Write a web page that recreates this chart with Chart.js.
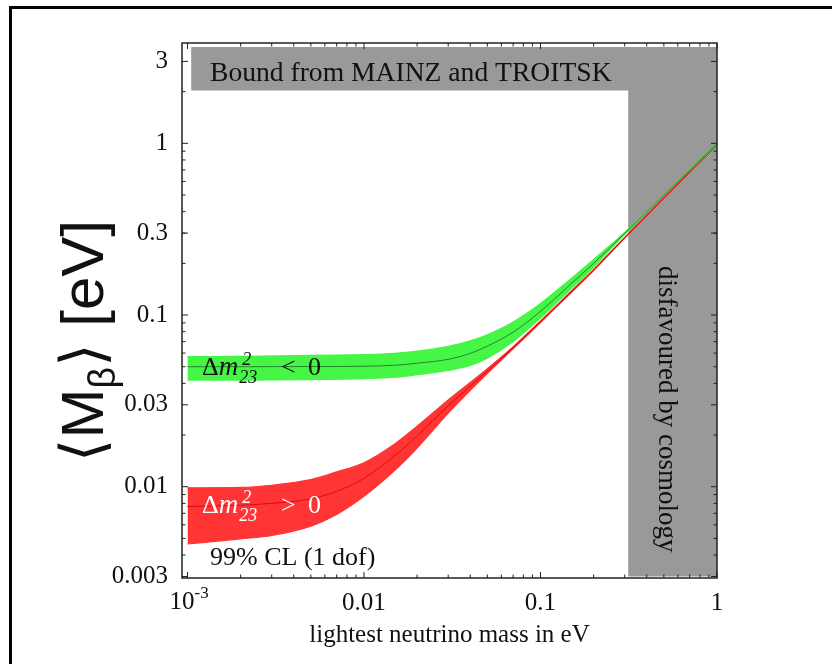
<!DOCTYPE html>
<html>
<head>
<meta charset="utf-8">
<script src="https://cdn.jsdelivr.net/npm/chart.js@4.4.1/dist/chart.umd.min.js"></script>
<style>
  html, body { margin: 0; padding: 0; background: #fff; }
  #wrap { width: 832px; height: 664px; }
</style>
</head>
<body>
<div id="wrap"><canvas id="mbeta" width="832" height="664"></canvas></div>
<script>
// lightest neutrino mass (eV) where the green band (Δm²23 < 0) was read
const greenMass = [0.001, 0.002, 0.005, 0.01, 0.015, 0.02, 0.03, 0.04, 0.05, 0.07, 0.1, 0.15, 0.2, 0.3, 1];
const greenHigh = [0.0572, 0.0575, 0.0582, 0.0588, 0.0598, 0.0616, 0.0656, 0.0707, 0.0768, 0.0911, 0.1167, 0.164, 0.2106, 0.303, 1.0];
const greenMid  = [0.0500, 0.0500, 0.0501, 0.0503, 0.0510, 0.0524, 0.0552, 0.0598, 0.0659, 0.0795, 0.1050, 0.153, 0.2000, 0.299, 1.0];
const greenLow  = [0.0418, 0.0418, 0.0420, 0.0426, 0.0434, 0.0449, 0.0475, 0.0508, 0.0560, 0.0700, 0.0960, 0.143, 0.190, 0.295, 1.0];

// red band (Δm²23 > 0)
const redMass = [0.001, 0.002, 0.003, 0.005, 0.007, 0.01, 0.015, 0.02, 0.03, 0.05, 0.07, 0.1, 0.15, 0.2, 0.3, 1];
const redHigh = [0.00985, 0.0099, 0.0102, 0.0110, 0.0122, 0.0138, 0.0178, 0.0225, 0.0320, 0.0487, 0.0655, 0.0925, 0.1385, 0.1845, 0.2835, 0.987];
const redMid  = [0.00767, 0.0078, 0.0080, 0.0085, 0.0094, 0.0112, 0.0152, 0.0198, 0.0296, 0.0472, 0.0645, 0.0915, 0.1370, 0.1830, 0.2820, 0.985];
const redLow  = [0.00464, 0.00497, 0.0052, 0.0059, 0.0069, 0.0088, 0.0125, 0.0168, 0.0268, 0.0457, 0.0635, 0.0905, 0.1355, 0.1815, 0.2805, 0.983];

// excluded regions
const mainzX = [0.00105, 1];    // Bound from MAINZ and TROITSK
const mainzY = [2.03, 3.64];
const cosmoX = [0.314, 1];      // disfavoured by cosmology
const cosmoY = [0.003, 3.64];

// ticks
const xTickVals = [0.001, 0.01, 0.1, 1];
const xTickLabels = ['', '0.01', '0.1', '1'];   // 10^-3 drawn by hand (superscript)
const yTickVals = [0.003, 0.01, 0.03, 0.1, 0.3, 1, 3];
const yTickLabels = ['0.003', '0.01', '0.03', '0.1', '0.3', '1', '3'];

const SERIF = '"Liberation Serif", "Times New Roman", serif';
const SANS = '"Liberation Sans", Arial, "DejaVu Sans", sans-serif';

const pts = (xs, ys) => xs.map((v, i) => ({ x: v, y: ys[i] }));

// minor tick positions, 1..9 times each decade
function minorTicks(lo, hi) {
  const out = [];
  for (let e = -4; e <= 1; e++) {
    for (let d = 1; d <= 9; d++) {
      const v = d * Math.pow(10, e);
      if (v >= lo && v <= hi) out.push(v);
    }
  }
  return out;
}

function line(ctx, x1, y1, x2, y2) {
  ctx.beginPath(); ctx.moveTo(x1, y1); ctx.lineTo(x2, y2); ctx.stroke();
}

// Δm^2_23 label with stacked sup/sub
function deltaLabel(ctx, x0, base, rel, color) {
  ctx.fillStyle = color;
  ctx.textBaseline = 'alphabetic';
  ctx.textAlign = 'left';
  ctx.font = `26px ${SERIF}`;
  ctx.fillText('Δ', x0, base);
  let cx = x0 + ctx.measureText('Δ').width;
  ctx.font = `italic 27px ${SERIF}`;
  ctx.fillText('m', cx, base);
  cx += ctx.measureText('m').width + 1;
  ctx.font = `italic 18px ${SERIF}`;
  ctx.fillText('2', cx + 3, base - 10);
  ctx.fillText('23', cx, base + 8);
  ctx.font = `26px ${SERIF}`;
  ctx.fillText(rel, x0 + 79, base);
  ctx.fillText('0', x0 + 106, base);
}

const decorations = {
  id: 'decorations',
  beforeDatasetsDraw(chart) {
    const { ctx, scales: { x, y } } = chart;
    ctx.save();
    ctx.fillStyle = '#999999';
    [[mainzX, mainzY], [cosmoX, cosmoY]].forEach(([bx, by]) => {
      const x0 = x.getPixelForValue(bx[0]), x1 = x.getPixelForValue(bx[1]);
      const y0 = y.getPixelForValue(by[1]), y1 = y.getPixelForValue(by[0]);
      ctx.fillRect(x0, y0, x1 - x0, y1 - y0);
    });
    ctx.restore();
  },
  afterDatasetsDraw(chart) {
    const { ctx, chartArea: a, scales: { x, y } } = chart;
    ctx.save();

    // texts inside the plot
    ctx.fillStyle = '#111';
    ctx.textBaseline = 'alphabetic';
    ctx.font = `27.6px ${SERIF}`;
    ctx.fillText('Bound from MAINZ and TROITSK', a.left + 28, 81);
    ctx.font = `26px ${SERIF}`;
    ctx.fillText('99% CL (1 dof)', a.left + 28, 565);
    deltaLabel(ctx, a.left + 20, 375, '<', '#111');
    deltaLabel(ctx, a.left + 20, 513, '>', '#fff');

    ctx.save();
    ctx.translate(659, 266);
    ctx.rotate(Math.PI / 2);
    ctx.fillStyle = '#111';
    ctx.font = `27px ${SERIF}`;
    ctx.fillText('disfavoured by cosmology', 0, 0);
    ctx.restore();

    // frame and inside ticks
    ctx.strokeStyle = '#222';
    ctx.lineWidth = 1.5;
    ctx.strokeRect(a.left, a.top, a.right - a.left, a.bottom - a.top);
    ctx.lineWidth = 1;
    const xMinor = minorTicks(x.min, x.max).filter(v => !xTickVals.includes(v));
    const yMinor = minorTicks(y.min, y.max).filter(v => !yTickVals.includes(v));
    const tickX = (vals, len) => vals.forEach(v => {
      const p = x.getPixelForValue(v);
      line(ctx, p, a.bottom, p, a.bottom - len);
      line(ctx, p, a.top, p, a.top + len);
    });
    const tickY = (vals, len) => vals.forEach(v => {
      const p = y.getPixelForValue(v);
      line(ctx, a.left, p, a.left + len, p);
      line(ctx, a.right, p, a.right - len, p);
    });
    tickX(xTickVals, 6); tickX(xMinor, 3.5);
    tickY(yTickVals, 6); tickY(yMinor, 3.5);
    ctx.restore();
  },
  afterDraw(chart) {
    const { ctx, scales: { x } } = chart;
    ctx.save();
    // 10^-3 label
    const p = x.getPixelForValue(xTickVals[0]);
    ctx.fillStyle = '#111';
    ctx.textBaseline = 'alphabetic';
    ctx.textAlign = 'left';
    ctx.font = `25px ${SERIF}`;
    ctx.fillText('10', p - 18, 609);
    ctx.font = `17px ${SERIF}`;
    ctx.fillText('-3', p + 7, 598);

    // y axis title <M_beta> [eV]
    ctx.translate(103, 341);
    ctx.rotate(-Math.PI / 2);
    const parts = [['⟨', 60, 0], ['M', 60, 0], ['β', 38, 12], ['⟩ [eV]', 60, 0]];
    let total = 0;
    parts.forEach(pt => { ctx.font = `${pt[1]}px ${SANS}`; total += ctx.measureText(pt[0]).width; });
    let cx = -total / 2;
    parts.forEach(pt => {
      ctx.font = `${pt[1]}px ${SANS}`;
      ctx.fillText(pt[0], cx, pt[2]);
      cx += ctx.measureText(pt[0]).width;
    });
    ctx.restore();

    // page border (top and left)
    ctx.save();
    ctx.fillStyle = '#000';
    ctx.fillRect(9, 6, 823, 3);
    ctx.fillRect(9, 6, 3, 658);
    ctx.restore();
  }
};

const band = (data, color, fill) => ({
  data, borderColor: color, backgroundColor: color, borderWidth: 1.2,
  fill, pointRadius: 0, cubicInterpolationMode: 'monotone'
});

new Chart(document.getElementById('mbeta'), {
  type: 'line',
  data: {
    datasets: [
      { data: pts(greenMass, greenMid), borderColor: '#23862a', borderWidth: 1, fill: false, pointRadius: 0, cubicInterpolationMode: 'monotone' },
      band(pts(greenMass, greenHigh), 'rgb(70,246,70)', '+1'),
      band(pts(greenMass, greenLow), 'rgb(70,246,70)', false),
      { data: pts(redMass, redMid), borderColor: '#dd0a0a', borderWidth: 1, fill: false, pointRadius: 0, cubicInterpolationMode: 'monotone' },
      band(pts(redMass, redHigh), 'rgb(255,52,52)', '+1'),
      band(pts(redMass, redLow), 'rgb(255,52,52)', false)
    ]
  },
  options: {
    responsive: false,
    animation: false,
    devicePixelRatio: 1,
    layout: { padding: { top: 43, right: 115, left: 0, bottom: 0 } },
    plugins: { legend: { display: false }, tooltip: { enabled: false } },
    scales: {
      x: {
        type: 'logarithmic',
        min: 0.000931,
        max: 1,
        grid: { display: false },
        border: { display: false },
        afterBuildTicks: s => { s.ticks = xTickVals.map(v => ({ value: v })); },
        afterFit: s => { s.height = 86; },
        ticks: {
          autoSkip: false, maxRotation: 0, padding: 2, color: '#111',
          font: { family: SERIF, size: 25 },
          callback: (v, i) => xTickLabels[i]
        },
        title: {
          display: true, text: 'lightest neutrino mass in eV', color: '#111',
          font: { family: SERIF, size: 25 }, padding: { top: 0, bottom: 14 }
        }
      },
      y: {
        type: 'logarithmic',
        min: 0.00294,
        max: 3.84,
        grid: { display: false },
        border: { display: false },
        afterBuildTicks: s => { s.ticks = yTickVals.map(v => ({ value: v })); },
        afterFit: s => { s.width = 182; },
        ticks: {
          autoSkip: false, padding: 6, color: '#111',
          font: { family: SERIF, size: 25 },
          callback: (v, i) => yTickLabels[i]
        }
      }
    }
  },
  plugins: [decorations]
});
</script>
</body>
</html>
